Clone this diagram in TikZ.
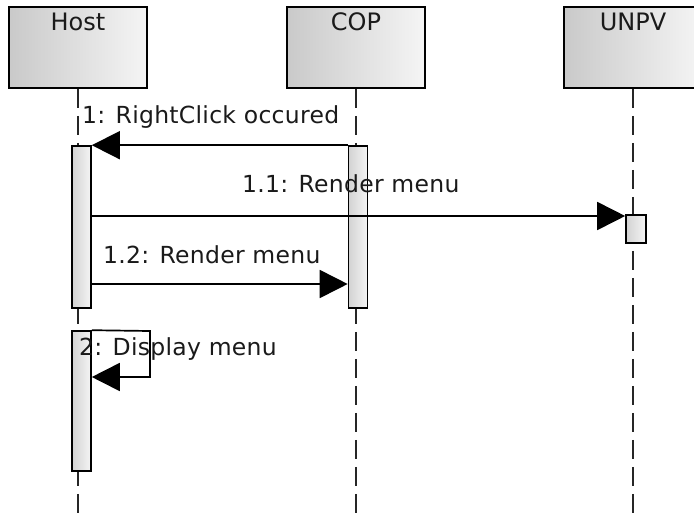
\documentclass[tikz,border=0pt]{standalone}
\usepackage{fontspec}
\setmainfont{DejaVu Sans}
\newfontfamily\lblfont[LetterSpace=1.2]{DejaVu Sans}
\usetikzlibrary{arrows.meta,calc}
\definecolor{txt}{HTML}{1A1A1A}
\tikzset{
  hdrbox/.style={draw=black, line width=1.6pt, left color=gray!42, right color=gray!8,
    minimum width=138pt, minimum height=81pt, inner sep=0pt},
  hdrtxt/.style={font=\fontsize{24}{24}\selectfont, text=txt, inner sep=0pt, anchor=base},
  actbar/.style={draw=black, line width=1.6pt, left color=gray!35, right color=gray!8,
    minimum width=19pt, inner sep=0pt},
  lifeline/.style={draw=black!85, line width=2pt, dash pattern=on 19pt off 8pt},
  msg/.style={draw=black, line width=1.7pt, -{Triangle[length=28pt,width=28pt]}},
  msglbl/.style={font=\lblfont\fontsize{23.5}{23.5}\selectfont, text=txt, inner sep=0pt, anchor=base west}
}
\begin{document}
\begin{tikzpicture}[x=1pt,y=-1pt]
\useasboundingbox (0,0) rectangle (694,515);
\clip (0,0) rectangle (694,515);
% header boxes
\node[hdrbox] (host) at (78,47.5) {};
\node[hdrbox] (cop) at (356,47.5) {};
\node[hdrbox] (unpv) at (633,47.5) {};
\node[hdrtxt] (hostt) at ($(host.north)+(0,24.5)$) {Host};
\node[hdrtxt] (copt) at ($(cop.north)+(0,24.5)$) {COP};
\node[hdrtxt] (unpvt) at ($(unpv.north)+(0,24.5)$) {UNPV};
% lifeline ends
\coordinate (hostend) at (78,515);
\coordinate (copend) at (356,515);
\coordinate (unpvend) at (633,515);
\draw[lifeline] (host.south) -- (hostend);
\draw[lifeline] (cop.south) -- (copend);
\draw[lifeline] (unpv.south) -- (unpvend);
% activation bars
\node[actbar, minimum height=162pt] (hostbar1) at (81.5,227) {};
\node[actbar, minimum height=162pt] (copbar) at (358,227) {};
\node[actbar, minimum height=28pt, minimum width=20pt] (unpvbar) at (636,229) {};
\node[actbar, minimum height=140pt] (hostbar2) at (81.5,401) {};
% messages
\coordinate (m11) at (0,216);
\coordinate (m12) at (0,284);
\coordinate (selfA) at (150,331);
\coordinate (selfB) at (150,377);
\draw[msg] (copbar.north west) -- (hostbar1.north east);
\draw[msg] (hostbar1.east |- m11) -- (unpvbar.west |- m11);
\draw[msg] (hostbar1.east |- m12) -- (copbar.west |- m12);
\draw[msg] (hostbar2.north east) -- (selfA) -- (selfB) -- (hostbar2.east |- selfB);
% labels
\node[msglbl] (l1) at (82,123) {1: RightClick occured};
\node[msglbl] (l11) at (242,192) {1.1: Render menu};
\node[msglbl] (l12) at (103,263) {1.2: Render menu};
\node[msglbl] (l2) at (79,355) {2: Display menu};
\end{tikzpicture}
\end{document}
